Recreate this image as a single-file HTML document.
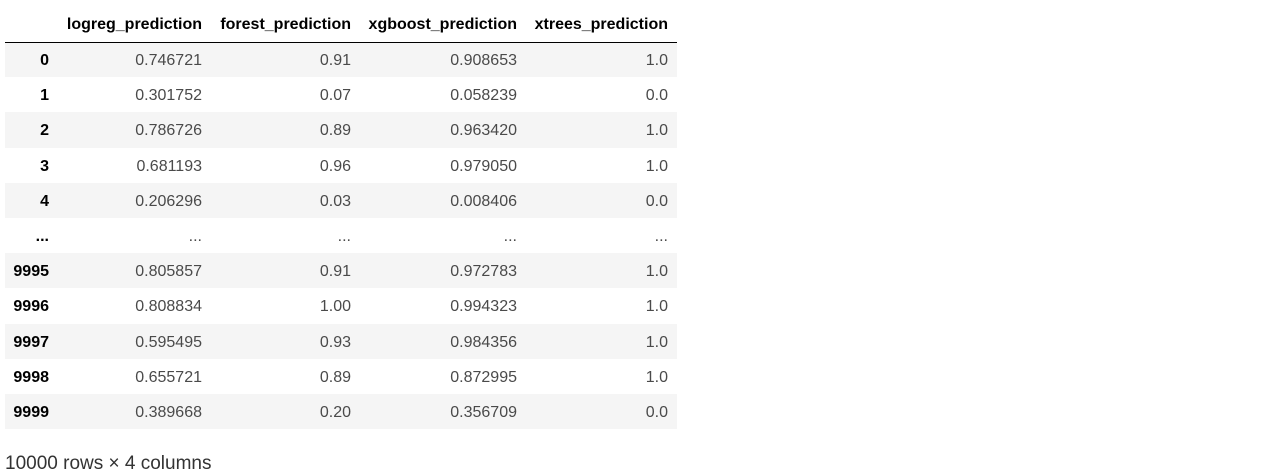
<!DOCTYPE html>
<html><head><meta charset="utf-8"><style>
html,body{margin:0;padding:0;background:#fff;width:1269px;height:475px;overflow:hidden;}
body{font-family:"Liberation Sans",Arial,sans-serif;font-size:16px;color:#333;}
table{position:absolute;left:5px;top:5px;border-collapse:collapse;table-layout:fixed;}
th,td{padding:3px 9px 0 0;text-align:right;white-space:nowrap;box-sizing:border-box;}
thead th{height:37px;font-weight:bold;color:#000;border-bottom:1px solid #000;}
tbody td,tbody th{height:35.2px;}
tbody th{font-weight:bold;color:#000;}
tbody tr:nth-child(odd){background:#f5f5f5;}
td{color:#4a4a4a;}
.foot{position:absolute;left:5px;top:453px;font-size:19px;color:#333;}
</style></head><body>
<table>
<colgroup><col style="width:53px"><col style="width:153px"><col style="width:149px"><col style="width:166px"><col style="width:151px"></colgroup>
<thead><tr>
<th></th>
<th>logreg_prediction</th>
<th>forest_prediction</th>
<th>xgboost_prediction</th>
<th>xtrees_prediction</th>
</tr></thead>
<tbody>
<tr><th>0</th><td>0.746721</td><td>0.91</td><td>0.908653</td><td>1.0</td></tr>
<tr><th>1</th><td>0.301752</td><td>0.07</td><td>0.058239</td><td>0.0</td></tr>
<tr><th>2</th><td>0.786726</td><td>0.89</td><td>0.963420</td><td>1.0</td></tr>
<tr><th>3</th><td>0.681193</td><td>0.96</td><td>0.979050</td><td>1.0</td></tr>
<tr><th>4</th><td>0.206296</td><td>0.03</td><td>0.008406</td><td>0.0</td></tr>
<tr><th>...</th><td>...</td><td>...</td><td>...</td><td>...</td></tr>
<tr><th>9995</th><td>0.805857</td><td>0.91</td><td>0.972783</td><td>1.0</td></tr>
<tr><th>9996</th><td>0.808834</td><td>1.00</td><td>0.994323</td><td>1.0</td></tr>
<tr><th>9997</th><td>0.595495</td><td>0.93</td><td>0.984356</td><td>1.0</td></tr>
<tr><th>9998</th><td>0.655721</td><td>0.89</td><td>0.872995</td><td>1.0</td></tr>
<tr><th>9999</th><td>0.389668</td><td>0.20</td><td>0.356709</td><td>0.0</td></tr>
</tbody></table>
<div class="foot">10000 rows × 4 columns</div>
</body></html>
